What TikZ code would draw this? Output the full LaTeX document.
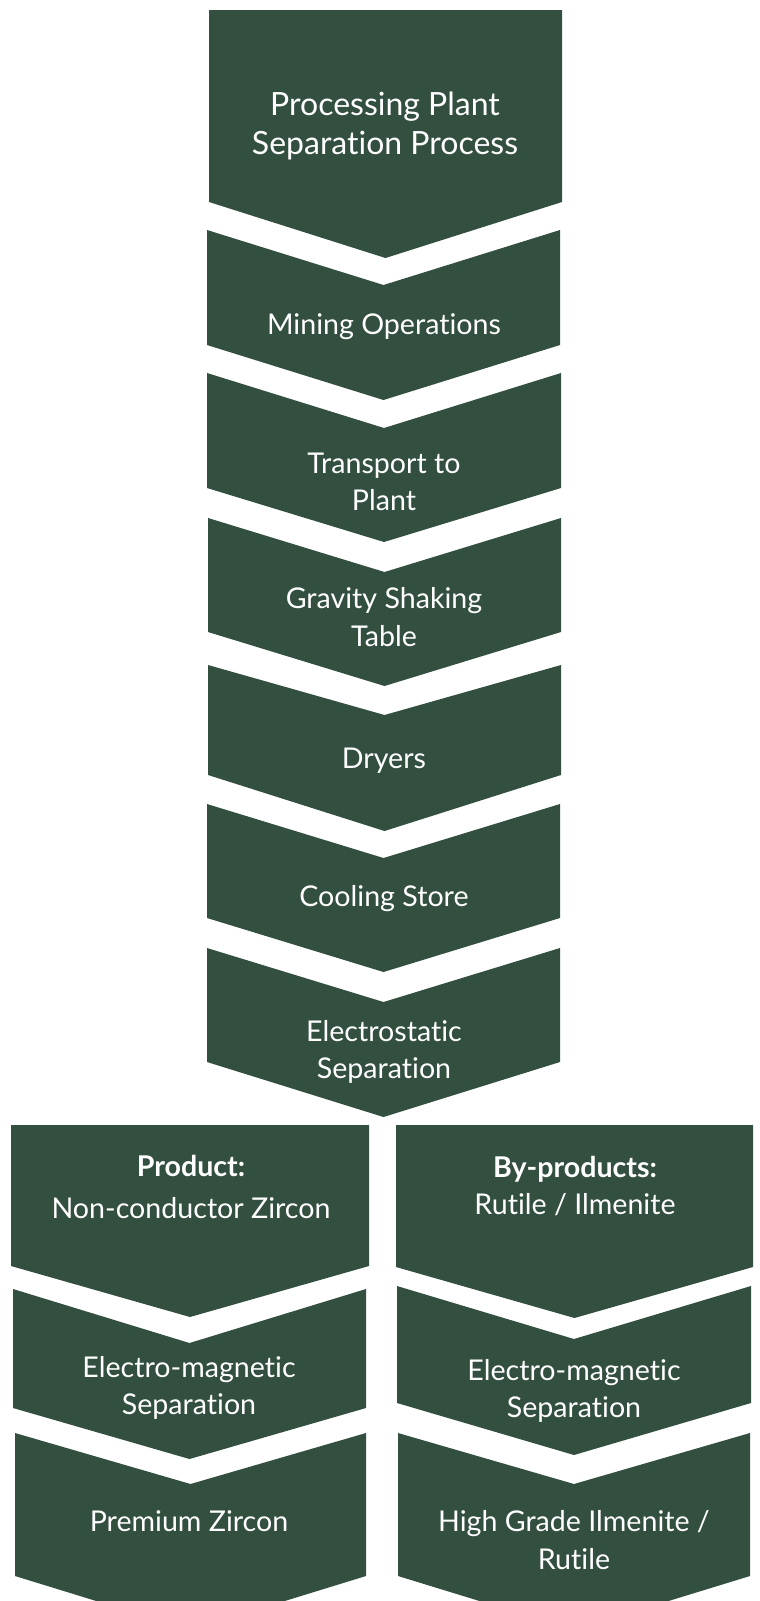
\documentclass[tikz,border=0pt]{standalone}
\usepackage{fontspec}
\setmainfont{Lato}[Ligatures={NoCommon}]
\definecolor{chevgreen}{RGB}{51,79,64}
\newcommand\chevshape[6]{%
  \fill[chevgreen] (#1,#3) -- ({(#1+#2)/2},#4) -- (#2,#3) -- (#2,#5) -- ({(#1+#2)/2},#6) -- (#1,#5) -- cycle;}
\begin{document}
\begin{tikzpicture}[x=1pt,y=-1pt,
  lbl/.style={text=white,align=center,inner sep=0pt,font=\fontsize{28.6}{37.5}\selectfont},
  ttl/.style={lbl,font=\fontsize{32}{39}\selectfont}]
\useasboundingbox (0,0) rectangle (760,1601);
\clip (0,0) rectangle (760,1601);
% main column
\chevshape{209}{562}{10}{10}{202}{258}
\chevshape{207}{560}{230}{285}{345}{400}
\chevshape{207}{561}{373}{428}{488}{542}
\chevshape{208}{561}{518}{572}{632}{686}
\chevshape{208}{561}{665}{715}{775}{831}
\chevshape{207}{560}{804}{858}{918}{972}
\chevshape{207}{560}{948}{1002}{1062}{1117}
% left column
\chevshape{11}{369}{1125}{1125}{1266}{1317}
\chevshape{13}{366}{1289}{1343}{1408}{1459}
\chevshape{15}{366}{1433}{1484}{1576}{1630}
% right column
\chevshape{396}{753}{1125}{1125}{1267}{1318}
\chevshape{397}{751}{1286}{1339}{1403}{1455}
\chevshape{398}{750}{1433}{1484}{1576}{1630}
% labels
\node[ttl] (t1) at (385,126) {Processing Plant\\Separation Process};
\node[lbl] (t2) at (384,327) {Mining Operations};
\node[lbl] (t3) at (384,482) {Transport to\\Plant};
\node[lbl] (t4) at (384,617) {Gravity Shaking\\Table};
\node[lbl] (t5) at (384,761) {Dryers};
\node[lbl] (t6) at (384,899) {Cooling Store};
\node[lbl] (t7) at (384,1052) {Electrostatic\\Separation};
\node[lbl] (l1) at (191,1187) {\textbf{Product:}\\[5pt]Non-conductor Zircon};
\node[lbl] (l2) at (189,1388) {Electro-magnetic\\Separation};
\node[lbl] (l3) at (189,1521) {Premium Zircon};
\node[lbl] (r1) at (575,1186) {\textbf{By-products:}\\Rutile / Ilmenite};
\node[lbl] (r2) at (574,1391) {Electro-magnetic\\Separation};
\node[lbl] (r3) at (574,1540) {High Grade Ilmenite /\\Rutile};
\end{tikzpicture}
\end{document}
